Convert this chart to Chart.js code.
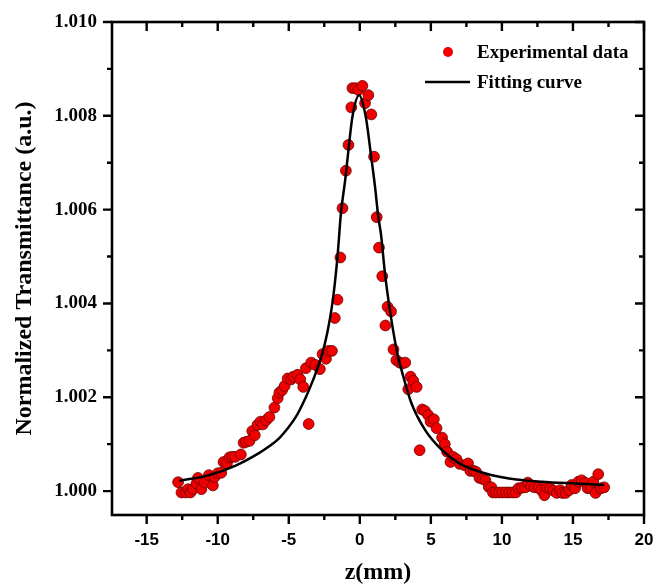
<!DOCTYPE html>
<html>
<head>
<meta charset="utf-8">
<script src="https://cdn.jsdelivr.net/npm/chart.js@4/dist/chart.umd.min.js"></script>
<style>
  body { margin: 0; background: #fff; }
  #wrap { width: 672px; height: 587px; }
</style>
</head>
<body>
<div id="wrap"><canvas id="ztChart" width="672" height="587"></canvas></div>
<script>
// experimental z-scan points (z in mm, normalized transmittance)
const expZ = [
  -12.79, -12.55, -12.25, -12.09, -11.92, -11.74, -11.5, -11.39, -11.15, -10.92,
  -10.62, -10.34, -10.22, -9.99, -9.75, -9.59, -9.35, -9.17, -8.98, -8.77,
  -8.37, -8.18, -8.0, -7.76, -7.57, -7.39, -7.2, -6.99, -6.83, -6.59,
  -6.36, -6.01, -5.78, -5.66, -5.47, -5.29, -5.08, -4.84, -4.68, -4.38,
  -4.19, -3.98, -3.79, -3.6, -3.42, -3.13, -2.81, -2.62, -2.38, -2.2,
  -1.96, -1.76, -1.57, -1.37, -1.22, -0.98, -0.8, -0.6, -0.52, -0.3,
  -0.1, 0.18, 0.37, 0.6, 0.81, 1.0, 1.19, 1.35, 1.58, 1.8,
  1.95, 2.2, 2.37, 2.57, 2.8, 3.0, 3.2, 3.41, 3.57, 3.76,
  4.0, 4.21, 4.39, 4.58, 4.81, 4.98, 5.21, 5.4, 5.79, 5.98,
  6.14, 6.38, 6.56, 6.8, 7.03, 7.38, 7.62, 7.78, 8.02, 8.18,
  8.42, 8.65, 8.84, 9.07, 9.26, 9.37, 9.58, 9.81, 10.04, 10.28,
  10.51, 10.75, 10.98, 11.17, 11.4, 11.64, 11.82, 12.06, 12.29, 12.57,
  12.76, 12.99, 13.16, 13.39, 13.63, 13.86, 14.1, 14.26, 14.49, 14.73,
  14.91, 15.15, 15.38, 15.61, 15.85, 16.03, 16.27, 16.43, 16.59, 16.78,
  16.97, 17.2
];
const expT = [
  1.00019, 0.99997, 0.99997, 1.00004, 0.99997, 1.00004, 1.00016, 1.00028, 1.00004, 1.00018,
  1.00034, 1.00012, 1.0003, 1.00038, 1.00039, 1.00062, 1.00059, 1.00072, 1.00073, 1.00073,
  1.00078, 1.00103, 1.00105, 1.00107, 1.00128, 1.00119, 1.00141, 1.00148, 1.00142, 1.00151,
  1.00158, 1.00178, 1.00198, 1.0021, 1.00215, 1.00224, 1.0024, 1.00238, 1.00244, 1.00248,
  1.00238, 1.00222, 1.00262, 1.00143, 1.00274, 1.00269, 1.0026, 1.00292, 1.00282, 1.00299,
  1.00299, 1.00369, 1.00408, 1.00498, 1.00603, 1.00683, 1.00738, 1.00818, 1.00859, 1.00859,
  1.00855, 1.00864, 1.00827, 1.00844, 1.00803, 1.00713, 1.00584, 1.00519, 1.00458, 1.00353,
  1.00393, 1.00383, 1.00302, 1.00279, 1.00274, 1.00272, 1.00274, 1.00217, 1.00244, 1.00235,
  1.00222, 1.00087, 1.00174, 1.00171, 1.00162, 1.00148, 1.00153, 1.00134, 1.00114, 1.001,
  1.00084, 1.00062, 1.00073, 1.00068, 1.00058, 1.00055, 1.00059, 1.00043, 1.00043, 1.00041,
  1.00028, 1.00026, 1.00023, 1.00009, 1.00008, 0.99997, 0.99997, 0.99997, 0.99997, 0.99997,
  0.99997, 0.99997, 0.99997, 1.00006, 1.00007, 1.00008, 1.00018, 1.00011, 1.00008, 1.00008,
  1.00002, 0.99991, 1.00008, 1.00006, 1.00001, 0.99996, 1.00002, 0.99996, 0.99996, 1.00002,
  1.00013, 1.00006, 1.0002, 1.00023, 1.00018, 1.00006, 1.00006, 1.0002, 0.99996, 1.00036,
  1.00006, 1.00008
];

// fitting curve
const fitZ = [
  -12.7, -10.6, -8.7, -7.1, -6.4, -5.7, -5.1, -4.5, -3.8, -3.3,
  -2.7, -2.3, -1.9, -1.57, -1.33, -1.03, -0.8, -0.52, -0.05, 0.42,
  0.77, 1.07, 1.3, 1.5, 1.77, 2.17, 2.64, 3.0, 3.6, 4.6,
  5.8, 7.0, 8.8, 10.5, 12.8, 15.2, 17.2
];
const fitT = [
  1.00022, 1.00034, 1.00055, 1.00081, 1.00095, 1.00112, 1.00133, 1.00158, 1.002, 1.00236,
  1.00287, 1.00336, 1.00407, 1.005, 1.00592, 1.00663, 1.00727, 1.00798, 1.00844, 1.00798,
  1.0072, 1.00649, 1.00585, 1.00545, 1.00464, 1.00375, 1.00294, 1.00251, 1.0019, 1.0013,
  1.00087, 1.00059, 1.00038, 1.00027, 1.0002, 1.00016, 1.00013
];

// axis ticks
const xMajor = [-15, -10, -5, 0, 5, 10, 15, 20];
const xMinor = [-12.5, -7.5, -2.5, 2.5, 7.5, 12.5, 17.5];
const yMajor = [1.000, 1.002, 1.004, 1.006, 1.008, 1.010];
const yMinor = [1.001, 1.003, 1.005, 1.007, 1.009];

const legendLabels = ['Experimental data', 'Fitting curve'];

const serif = '"Liberation Serif", "Times New Roman", serif';
const sans = '"Liberation Sans", Arial, sans-serif';

// box frame + inward/outward ticks like the original plot
const framePlugin = {
    id: 'frame',
    afterDraw(chart) {
        const ctx = chart.ctx;
        const a = chart.chartArea;
        const xs = chart.scales.x, ys = chart.scales.y;
        ctx.save();
        ctx.strokeStyle = '#000';
        ctx.lineWidth = 2.6;
        ctx.lineCap = 'square';
        ctx.strokeRect(a.left, a.top, a.right - a.left, a.bottom - a.top);
        ctx.lineWidth = 2.4;
        ctx.lineCap = 'butt';
        const xt = xMajor.map(v => [v, 9]).concat(xMinor.map(v => [v, 5]));
        xt.forEach(([v, len]) => {
            const px = xs.getPixelForValue(v);
            ctx.beginPath();
            ctx.moveTo(px, a.bottom); ctx.lineTo(px, a.bottom + len);
            ctx.moveTo(px, a.top); ctx.lineTo(px, a.top + len);
            ctx.stroke();
        });
        const yt = yMajor.map(v => [v, 9]).concat(yMinor.map(v => [v, 5]));
        yt.forEach(([v, len]) => {
            const py = ys.getPixelForValue(v);
            ctx.beginPath();
            ctx.moveTo(a.left, py); ctx.lineTo(a.left - len, py);
            ctx.moveTo(a.right, py); ctx.lineTo(a.right - len, py);
            ctx.stroke();
        });
        ctx.restore();
    }
};

// legend in the upper right corner
const legendPlugin = {
    id: 'cornerLegend',
    afterDraw(chart) {
        const ctx = chart.ctx;
        const a = chart.chartArea;
        const x0 = a.right - 196;
        const y0 = a.top + 30;
        ctx.save();
        ctx.beginPath();
        ctx.arc(x0, y0, 5, 0, Math.PI * 2);
        ctx.fillStyle = '#f00000';
        ctx.fill();
        ctx.strokeStyle = '#000';
        ctx.lineWidth = 2.5;
        ctx.beginPath();
        ctx.moveTo(x0 - 23, y0 + 30);
        ctx.lineTo(x0 + 22, y0 + 30);
        ctx.stroke();
        ctx.fillStyle = '#000';
        ctx.font = 'bold 19px ' + serif;
        ctx.textBaseline = 'middle';
        ctx.textAlign = 'left';
        ctx.fillText(legendLabels[0], x0 + 29, y0 + 1);
        ctx.fillText(legendLabels[1], x0 + 29, y0 + 31);
        ctx.restore();
    }
};

const ctx = document.getElementById('ztChart').getContext('2d');
new Chart(ctx, {
    type: 'scatter',
    data: {
        datasets: [
            {
                label: legendLabels[1],
                data: fitZ.map((z, i) => ({ x: z, y: fitT[i] })),
                showLine: true,
                borderColor: '#000',
                borderWidth: 2.5,
                pointRadius: 0,
                cubicInterpolationMode: 'monotone',
                fill: false
            },
            {
                label: legendLabels[0],
                data: expZ.map((z, i) => ({ x: z, y: expT[i] })),
                pointRadius: 5.4,
                pointBackgroundColor: '#f00000',
                pointBorderColor: '#6a0000',
                pointBorderWidth: 0.8
            }
        ]
    },
    options: {
        responsive: false,
        animation: false,
        devicePixelRatio: 1,
        layout: { padding: { left: 0, right: 28, top: 22, bottom: 0 } },
        plugins: {
            legend: { display: false },
            tooltip: { enabled: false }
        },
        scales: {
            x: {
                type: 'linear',
                min: -17.44,
                max: 20,
                afterFit: s => { s.height = 72; },
                afterBuildTicks: s => {
                    s.ticks = xMajor.concat(xMinor).sort((p, q) => p - q).map(v => ({ value: v }));
                },
                grid: { display: true, drawOnChartArea: false, drawTicks: true, tickLength: 9, color: 'rgba(0,0,0,0)' },
                border: { display: false },
                ticks: {
                    autoSkip: false,
                    maxRotation: 0,
                    padding: 6,
                    color: '#000',
                    font: { family: sans, size: 17, weight: 'bold' },
                    callback: v => xMajor.includes(v) ? String(v) : ''
                },
                title: {
                    display: true,
                    text: 'z(mm)',
                    color: '#000',
                    font: { family: serif, size: 24, weight: 'bold' },
                    padding: { top: 0, bottom: 0 }
                }
            },
            y: {
                type: 'linear',
                min: 0.99949,
                max: 1.010,
                afterFit: s => { s.width = 112; },
                afterBuildTicks: s => {
                    s.ticks = yMajor.concat(yMinor).sort((p, q) => p - q).map(v => ({ value: v }));
                },
                grid: { display: true, drawOnChartArea: false, drawTicks: true, tickLength: 9, color: 'rgba(0,0,0,0)' },
                border: { display: false },
                ticks: {
                    autoSkip: false,
                    padding: 6,
                    color: '#000',
                    font: { family: serif, size: 19, weight: 'bold' },
                    callback: v => yMajor.includes(v) ? v.toFixed(3) : ''
                },
                title: {
                    display: true,
                    text: 'Normalized Transmittance (a.u.)',
                    color: '#000',
                    font: { family: serif, size: 24, weight: 'bold' },
                    padding: { top: 10, bottom: 0 }
                }
            }
        }
    },
    plugins: [framePlugin, legendPlugin]
});
</script>
</body>
</html>
